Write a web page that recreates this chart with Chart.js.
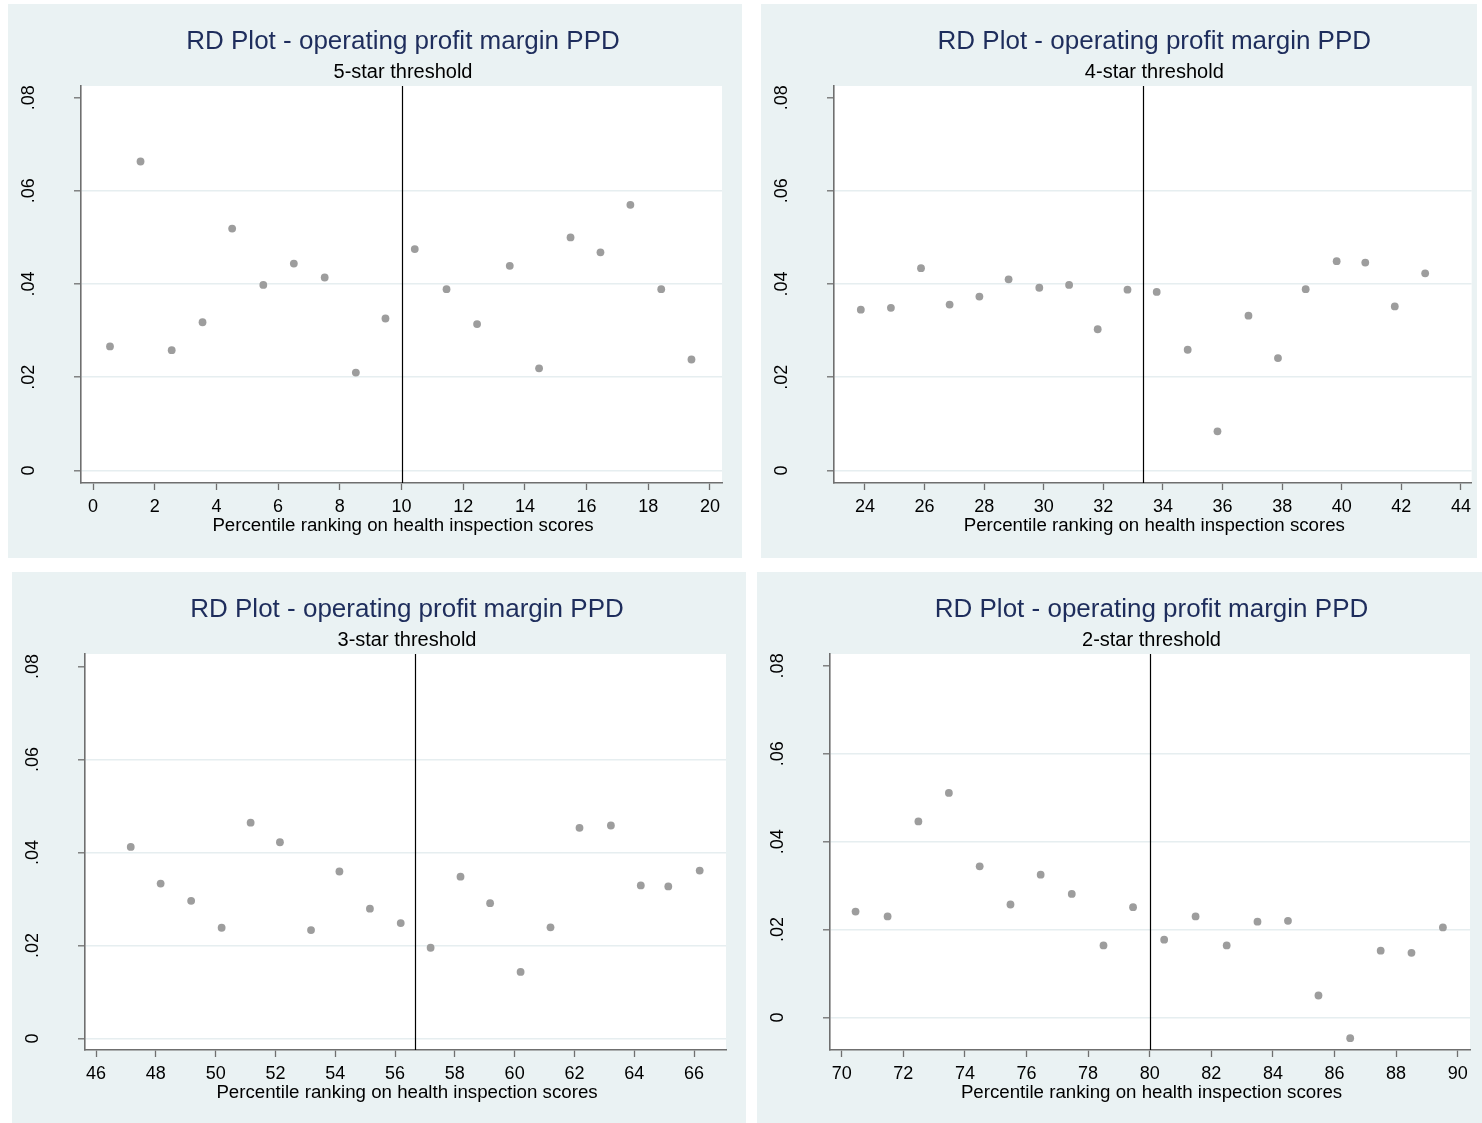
<!DOCTYPE html>
<html>
<head>
<meta charset="utf-8">
<script src="https://cdn.jsdelivr.net/npm/chart.js@4/dist/chart.umd.min.js"></script>
<style>
  html, body { margin: 0; padding: 0; background: #ffffff; width: 1482px; height: 1123px; overflow: hidden; }
  .panel { position: absolute; background: #eaf2f3; }
  canvas { display: block; }
</style>
</head>
<body>
<div class="panel" id="p0"><canvas id="c0"></canvas></div>
<div class="panel" id="p1"><canvas id="c1"></canvas></div>
<div class="panel" id="p2"><canvas id="c2"></canvas></div>
<div class="panel" id="p3"><canvas id="c3"></canvas></div>
<script>
// ---------- data ----------
const chartTitle = 'RD Plot - operating profit margin PPD';
const subtitles = ['5-star threshold', '4-star threshold', '3-star threshold', '2-star threshold'];
const xAxisTitle = 'Percentile ranking on health inspection scores';
const thresholds = [10, 33.33, 56.67, 80];

const x5star = [0.55, 1.54, 2.55, 3.55, 4.51, 5.52, 6.51, 7.51, 8.52, 9.48, 10.43, 11.46, 12.45, 13.51, 14.46, 15.48, 16.45, 17.42, 18.42, 19.40];
const y5star = [0.0266, 0.0663, 0.0258, 0.0318, 0.0519, 0.0398, 0.0444, 0.0414, 0.0210, 0.0326, 0.0475, 0.0389, 0.0314, 0.0439, 0.0219, 0.0500, 0.0468, 0.0570, 0.0389, 0.0238];

const x4star = [23.86, 24.87, 25.88, 26.84, 27.84, 28.82, 29.85, 30.85, 31.81, 32.81, 33.79, 34.83, 35.83, 36.87, 37.86, 38.79, 39.83, 40.79, 41.78, 42.80];
const y4star = [0.0345, 0.0349, 0.0434, 0.0356, 0.0373, 0.0410, 0.0392, 0.0398, 0.0303, 0.0388, 0.0383, 0.0259, 0.0084, 0.0332, 0.0241, 0.0389, 0.0449, 0.0446, 0.0352, 0.0423];

const x3star = [47.16, 48.16, 49.18, 50.20, 51.17, 52.15, 53.19, 54.14, 55.16, 56.19, 57.19, 58.19, 59.18, 60.20, 61.20, 62.17, 63.22, 64.22, 65.14, 66.19];
const y3star = [0.0412, 0.0333, 0.0296, 0.0238, 0.0464, 0.0422, 0.0233, 0.0359, 0.0279, 0.0248, 0.0195, 0.0348, 0.0291, 0.0143, 0.0239, 0.0453, 0.0458, 0.0329, 0.0327, 0.0361];

const x2star = [70.45, 71.49, 72.49, 73.48, 74.48, 75.48, 76.46, 77.47, 78.50, 79.46, 80.47, 81.49, 82.50, 83.50, 84.49, 85.48, 86.51, 87.50, 88.50, 89.52];
const y2star = [0.0241, 0.0230, 0.0446, 0.0511, 0.0344, 0.0257, 0.0325, 0.0281, 0.0164, 0.0251, 0.0177, 0.0230, 0.0164, 0.0218, 0.0220, 0.0050, -0.0047, 0.0152, 0.0147, 0.0205];

const xTicks5star = [0, 2, 4, 6, 8, 10, 12, 14, 16, 18, 20];
const xTicks4star = [24, 26, 28, 30, 32, 34, 36, 38, 40, 42, 44];
const xTicks3star = [46, 48, 50, 52, 54, 56, 58, 60, 62, 64, 66];
const xTicks2star = [70, 72, 74, 76, 78, 80, 82, 84, 86, 88, 90];

const yTickValues = [0, 0.02, 0.04, 0.06, 0.08];
const yTickLabels = ['0', '.02', '.04', '.06', '.08'];

const xRanges = [[-0.39, 20.39], [22.96, 44.36], [45.63, 67.07], [69.62, 90.40]];
const yRanges = [[-0.0027, 0.0825], [-0.0027, 0.0825], [-0.0025, 0.0827], [-0.0074, 0.0827]];

const panelsX = [x5star, x4star, x3star, x2star];
const panelsY = [y5star, y4star, y3star, y2star];
const panelsXTicks = [xTicks5star, xTicks4star, xTicks3star, xTicks2star];

// ---------- layout / style ----------
const frames = [
  { bg: [8, 4, 742, 558],     plot: [81, 86, 722, 483] },
  { bg: [761, 4, 1477, 558],  plot: [834, 86, 1475, 483] },
  { bg: [12, 572, 746, 1123], plot: [85, 654, 726, 1050] },
  { bg: [757, 572, 1482, 1123], plot: [830, 654, 1470, 1050] }
];
const FONT = "'Liberation Sans', Arial, Helvetica, sans-serif";
const axisColor = '#6f6f6f';
const gridColor = '#e6eef0';
const titleColor = '#1e2d5c';
const pointColor = '#9d9d9d';

const stataDecor = {
  id: 'stataDecor',
  beforeDraw(chart) {
    const { ctx, chartArea: a } = chart;
    ctx.save();
    ctx.fillStyle = '#ffffff';
    ctx.fillRect(a.left, a.top, a.right - a.left, a.bottom - a.top);
    ctx.restore();
  },
  afterDatasetsDraw(chart, args, opts) {
    const { ctx, chartArea: a } = chart;
    const xs = chart.scales.x;
    const px = Math.round(xs.getPixelForValue(thresholds[opts.panel])) + 0.5;
    ctx.save();
    ctx.strokeStyle = '#000000';
    ctx.lineWidth = 1.2;
    ctx.beginPath();
    ctx.moveTo(px, a.top);
    ctx.lineTo(px, a.bottom);
    ctx.stroke();
    ctx.restore();
  },
  afterDraw(chart, args, opts) {
    const { ctx, chartArea: a } = chart;
    const cx = (a.left + a.right) / 2 + 1.5;
    ctx.save();
    ctx.textAlign = 'center';
    ctx.textBaseline = 'alphabetic';
    ctx.fillStyle = titleColor;
    ctx.font = '26px ' + FONT;
    ctx.fillText(chartTitle, cx, a.top - 37.5);
    ctx.fillStyle = '#000000';
    ctx.font = '20px ' + FONT;
    ctx.fillText(subtitles[opts.panel], cx, a.top - 8);
    ctx.font = '18.7px ' + FONT;
    ctx.fillText(xAxisTitle, cx, a.bottom + 48);
    // rotated y tick labels
    const ys = chart.scales.y;
    ctx.font = '18px ' + FONT;
    ys.ticks.forEach((t, i) => {
      const py = ys.getPixelForValue(t.value);
      ctx.save();
      ctx.translate(a.left - 47, py);
      ctx.rotate(-Math.PI / 2);
      ctx.textAlign = 'center';
      ctx.textBaseline = 'alphabetic';
      ctx.fillText(yTickLabels[i], 0, 0);
      ctx.restore();
    });
    ctx.restore();
  }
};

frames.forEach((f, i) => {
  const div = document.getElementById('p' + i);
  const W = f.bg[2] - f.bg[0], H = f.bg[3] - f.bg[1];
  div.style.left = f.bg[0] + 'px';
  div.style.top = f.bg[1] + 'px';
  div.style.width = W + 'px';
  div.style.height = H + 'px';
  const canvas = document.getElementById('c' + i);
  canvas.width = W; canvas.height = H;
  canvas.style.width = W + 'px'; canvas.style.height = H + 'px';

  const pts = panelsX[i].map((x, k) => ({ x: x, y: panelsY[i][k] }));
  const xTicks = panelsXTicks[i];

  new Chart(canvas, {
    type: 'scatter',
    data: {
      datasets: [{
        data: pts,
        pointRadius: 3.9,
        pointHoverRadius: 3.9,
        pointBackgroundColor: pointColor,
        pointBorderWidth: 0,
        borderWidth: 0
      }]
    },
    options: {
      responsive: false,
      animation: false,
      devicePixelRatio: 1,
      layout: { padding: { top: f.plot[1] - f.bg[1], right: f.bg[2] - f.plot[2], left: 0, bottom: 0 } },
      plugins: {
        legend: { display: false },
        title: { display: false },
        tooltip: { enabled: false },
        stataDecor: { panel: i }
      },
      scales: {
        x: {
          type: 'linear',
          min: xRanges[i][0],
          max: xRanges[i][1],
          afterBuildTicks: (s) => { s.ticks = xTicks.map(v => ({ value: v })); },
          afterFit: (s) => { s.height = f.bg[3] - f.plot[3]; },
          grid: { drawOnChartArea: false, drawTicks: true, tickLength: 7, tickColor: axisColor, tickWidth: 1.3 },
          border: { display: true, color: axisColor, width: 1.6 },
          ticks: {
            autoSkip: false, maxRotation: 0, minRotation: 0, padding: 6,
            color: '#000000', font: { family: FONT, size: 18 },
            callback: (v) => String(v)
          }
        },
        y: {
          type: 'linear',
          min: yRanges[i][0],
          max: yRanges[i][1],
          afterBuildTicks: (s) => { s.ticks = yTickValues.map(v => ({ value: v })); },
          afterFit: (s) => { s.width = f.plot[0] - f.bg[0]; },
          grid: {
            drawOnChartArea: true, drawTicks: true, tickLength: 7,
            color: (c) => (c.index === yTickValues.length - 1 ? 'rgba(0,0,0,0)' : gridColor),
            lineWidth: 1.6,
            tickColor: axisColor, tickWidth: 1.3
          },
          border: { display: true, color: axisColor, width: 1.6 },
          ticks: { display: false }
        }
      }
    },
    plugins: [stataDecor]
  });
});
</script>
</body>
</html>
